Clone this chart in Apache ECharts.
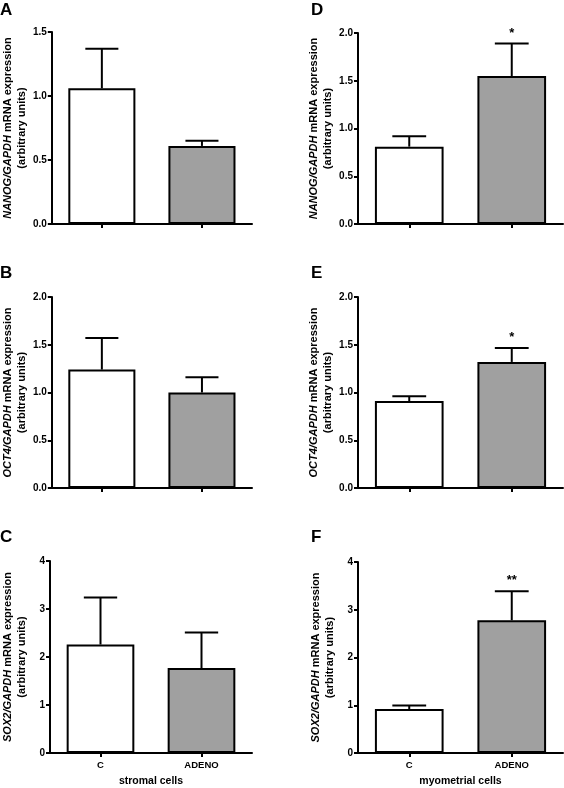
<!DOCTYPE html>
<html><head><meta charset="utf-8">
<script src="https://cdn.jsdelivr.net/npm/echarts@6/dist/echarts.min.js"></script>
<style>html,body{margin:0;padding:0;background:#fff}#c{width:564px;height:788px}</style>
</head><body><div id="c"></div>
<script>
// ---- data ----
const categories = ['C', 'ADENO'];
const panelLetters = ['A', 'B', 'C', 'D', 'E', 'F'];
const geneNames = ['NANOG', 'OCT4', 'SOX2', 'NANOG', 'OCT4', 'SOX2'];
const cellTypes = ['stromal cells', 'myometrial cells'];

const meanA = [1.06, 0.61];  const errA = [0.31, 0.04];  const sigA = ['', ''];
const meanB = [1.24, 1.00];  const errB = [0.33, 0.16];  const sigB = ['', ''];
const meanC = [2.26, 1.77];  const errC = [0.98, 0.74];  const sigC = ['', ''];
const meanD = [0.81, 1.55];  const errD = [0.11, 0.34];  const sigD = ['', '*'];
const meanE = [0.91, 1.32];  const errE = [0.05, 0.145]; const sigE = ['', '*'];
const meanF = [0.92, 2.78];  const errF = [0.075, 0.605]; const sigF = ['', '**'];

const yMaxes = [1.5, 2.0, 4, 2.0, 2.0, 4];
const yIntervals = [0.5, 0.5, 1, 0.5, 0.5, 1];

// ---- layout (pixels) ----
const FONT = 'Liberation Sans, Arial, Helvetica, sans-serif';
const grids = [
  {left: 47,  top: 32,  width: 205, height: 192},
  {left: 47,  top: 297, width: 205, height: 191},
  {left: 47,  top: 561, width: 205, height: 194},
  {left: 358, top: 33,  width: 205, height: 191},
  {left: 358, top: 297, width: 205, height: 191},
  {left: 358, top: 562, width: 205, height: 193}
];
const means = [meanA, meanB, meanC, meanD, meanE, meanF];
const errs = [errA, errB, errC, errD, errE, errF];
const sigs = [sigA, sigB, sigC, sigD, sigE, sigF];
const barColors = ['#ffffff', '#a0a0a0'];

const xAxes = [], yAxes = [], series = [], graphics = [];
grids.forEach((g, i) => {
  const bottomRow = (i === 2 || i === 5);
  xAxes.push({
    type: 'category', gridIndex: i, data: categories,
    axisLine: {show: true, lineStyle: {color: '#000', width: 2}},
    axisTick: {show: true, alignWithLabel: true, length: 4, lineStyle: {color: '#000', width: 2}},
    axisLabel: {show: bottomRow, color: '#000', fontFamily: FONT, fontSize: 9.5, fontWeight: 'bold', margin: 7},
    name: bottomRow ? cellTypes[i === 2 ? 0 : 1] : '',
    nameLocation: 'middle', nameGap: 23,
    nameTextStyle: {color: '#000', fontFamily: FONT, fontSize: 10.5, fontWeight: 'bold'}
  });
  const dec = yIntervals[i] < 1 ? 1 : 0;
  yAxes.push({
    type: 'value', gridIndex: i, min: 0, max: yMaxes[i], interval: yIntervals[i],
    axisLine: {show: true, lineStyle: {color: '#000', width: 2}},
    axisTick: {show: true, length: 4, lineStyle: {color: '#000', width: 2}},
    splitLine: {show: false},
    axisLabel: {color: '#000', fontFamily: FONT, fontSize: 10, fontWeight: 'bold', margin: 5,
      formatter: v => v.toFixed(dec)},
    name: '{i|' + geneNames[i] + '/GAPDH} mRNA expression\n(arbitrary units)',
    nameLocation: 'middle', nameRotate: 90, nameGap: 21,
    nameTextStyle: {color: '#000', fontFamily: FONT, fontSize: 11, fontWeight: 'bold', lineHeight: 14,
      rich: {i: {fontStyle: 'italic', fontWeight: 'bold', fontSize: 11, fontFamily: FONT, color: '#000', lineHeight: 14}}}
  });
  series.push({
    type: 'bar', xAxisIndex: i, yAxisIndex: i, barWidth: '67%',
    data: means[i].map((v, k) => ({value: v, itemStyle: {color: barColors[k]}})),
    itemStyle: {borderColor: '#000', borderWidth: 2},
    animation: false, silent: true
  });
  const sg = sigs[i];
  series.push({
    type: 'custom', xAxisIndex: i, yAxisIndex: i, z: 5,
    data: means[i].map((v, k) => [k, v, errs[i][k]]),
    encode: {x: 0, y: 1},
    renderItem: (params, api) => {
      const x = api.value(0), m = api.value(1), e = api.value(2);
      const base = api.coord([x, m]);
      const top = api.coord([x, m + e]);
      const hw = api.size([1, 0])[0] * 0.165;
      const children = [
        {type: 'line', shape: {x1: base[0], y1: base[1], x2: top[0], y2: top[1]}, style: {stroke: '#000', lineWidth: 2}},
        {type: 'line', shape: {x1: top[0] - hw, y1: top[1], x2: top[0] + hw, y2: top[1]}, style: {stroke: '#000', lineWidth: 2}}
      ];
      const s = sg[params.dataIndex];
      if (s) {
        children.push({type: 'text', x: top[0], y: top[1] - 4,
          style: {text: s, fill: '#000', font: 'bold 13px ' + FONT, align: 'center', verticalAlign: 'bottom'}});
      }
      return {type: 'group', children};
    },
    animation: false, silent: true
  });
  graphics.push({
    type: 'text', left: i < 3 ? 0 : 311, top: [2, 265, 529][i % 3],
    style: {text: panelLetters[i], fill: '#000', font: 'bold 17px ' + FONT}
  });
});

const chart = echarts.init(document.getElementById('c'), null, {renderer: 'canvas'});
chart.setOption({
  animation: false,
  backgroundColor: '#fff',
  grid: grids.map(g => Object.assign({containLabel: false}, g)),
  xAxis: xAxes, yAxis: yAxes, series, graphic: graphics
});
</script></body></html>
